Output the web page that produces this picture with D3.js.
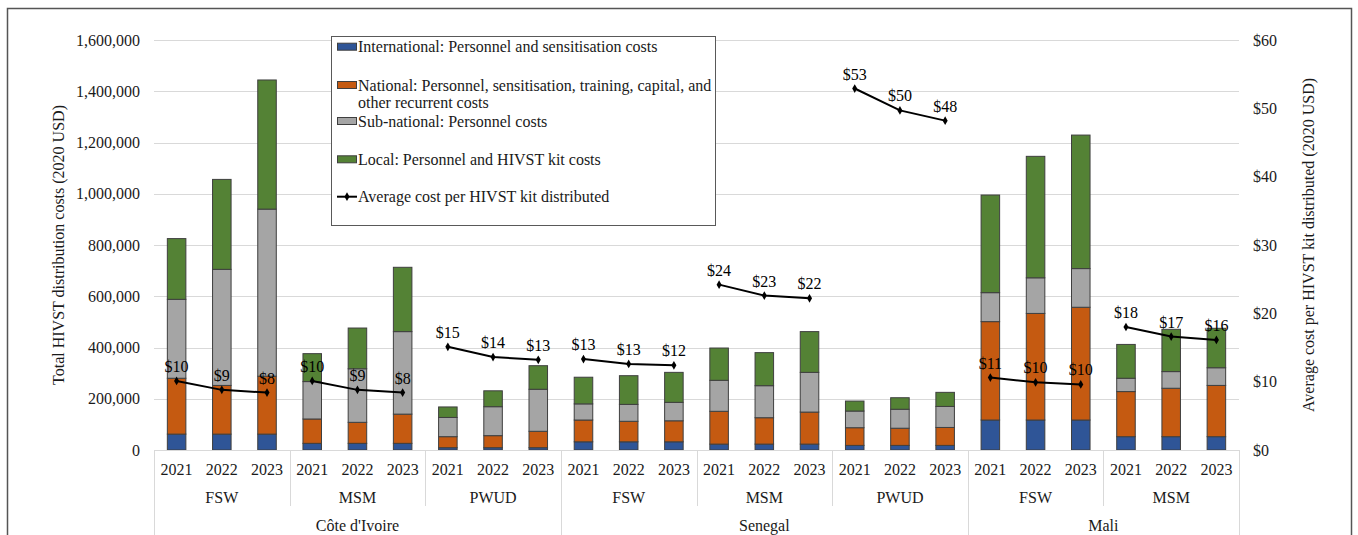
<!DOCTYPE html>
<html>
<head>
<meta charset="utf-8">
<script src="https://cdn.jsdelivr.net/npm/d3@7"></script>
<style>
  html, body { margin: 0; padding: 0; background: #fff; }
  svg { display: block; font-family: "Liberation Serif", "Times New Roman", serif; }
</style>
</head>
<body>
<svg id="chart" width="1358" height="535"></svg>
<script>
// ---------- DATA ----------
const countries = ["Côte d'Ivoire", "Senegal", "Mali"];
const groups = ["FSW", "MSM", "PWUD", "FSW", "MSM", "PWUD", "FSW", "MSM"];
const groupCountry = [0, 0, 0, 1, 1, 1, 2, 2];
const years = ["2021", "2022", "2023"];

// costs (2020 USD), one value per bar, in order group by group
const international = [62000, 62000, 62000, 26000, 26000, 26000, 9000, 9000, 9000,
  32000, 32000, 32000, 23000, 23000, 23000, 18000, 18000, 18000,
  117000, 117000, 117000, 52000, 52000, 52000];
const national = [218000, 190000, 226000, 95000, 82000, 114000, 43000, 47000, 64000,
  85000, 80000, 82000, 128000, 103000, 125000, 69000, 67000, 70000,
  384000, 416000, 440000, 176000, 189000, 200000];
const subnational = [308000, 453000, 652000, 146000, 209000, 322000, 75000, 113000, 164000,
  63000, 66000, 72000, 121000, 125000, 155000, 65000, 74000, 82000,
  113000, 139000, 151000, 52000, 65000, 69000];
const local = [237000, 351000, 504000, 109000, 159000, 251000, 41000, 62000, 92000,
  104000, 112000, 117000, 126000, 129000, 159000, 39000, 45000, 55000,
  381000, 474000, 521000, 132000, 165000, 154000];
const avgCost = [10.1, 8.8, 8.4, 10.1, 8.8, 8.4, 15.1, 13.6, 13.2,
  13.3, 12.6, 12.4, 24.2, 22.6, 22.2, 52.9, 49.7, 48.2,
  10.6, 9.9, 9.6, 18.0, 16.6, 16.1];

const leftTicks = [0, 200000, 400000, 600000, 800000, 1000000, 1200000, 1400000, 1600000];
const rightTicks = [0, 10, 20, 30, 40, 50, 60];

const seriesNames = [
  ["International: Personnel and sensitisation costs"],
  ["National: Personnel, sensitisation, training, capital, and", "other recurrent costs"],
  ["Sub-national: Personnel costs"],
  ["Local: Personnel and HIVST kit costs"]
];
const lineName = "Average cost per HIVST kit distributed";
const colors = ["#2F5597", "#C55A11", "#A5A5A5", "#548235"];

// ---------- BUILD ----------
const rows = [];
groups.forEach((g, gi) => {
  years.forEach((y, yi) => {
    const i = gi * 3 + yi;
    rows.push({
      key: gi + "-" + y, gi, year: y,
      international: international[i], national: national[i],
      subnational: subnational[i], local: local[i], avg: avgCost[i]
    });
  });
});
const keys = ["international", "national", "subnational", "local"];

const svg = d3.select("#chart");
const pLeft = 154, pRight = 1239, pTop = 40, pBottom = 450;

const x = d3.scaleBand().domain(rows.map(d => d.key)).range([pLeft, pRight])
  .paddingInner(0.59).paddingOuter(0.295);
const step = x.step();
const yL = d3.scaleLinear().domain([0, 1600000]).range([pBottom, pTop]);
const yR = d3.scaleLinear().domain([0, 60]).range([pBottom, pTop]);

// outer frame
svg.append("rect").attr("x", 7.5).attr("y", 8.5).attr("width", 1344).attr("height", 540)
  .attr("fill", "none").attr("stroke", "#555").attr("stroke-width", 1.5);

// gridlines
svg.append("g").selectAll("line").data(leftTicks.filter(t => t > 0)).join("line")
  .attr("x1", pLeft).attr("x2", pRight)
  .attr("y1", d => Math.round(yL(d)) + 0.5).attr("y2", d => Math.round(yL(d)) + 0.5)
  .attr("stroke", "#d9d9d9").attr("stroke-width", 1);

// left axis
const axL = svg.append("g").attr("transform", `translate(${pLeft},0)`)
  .call(d3.axisLeft(yL).tickValues(leftTicks).tickSize(0).tickPadding(14)
    .tickFormat(d => d === 0 ? "0" : d3.format(",")(d)));
axL.select(".domain").remove();
axL.selectAll("text").attr("font-size", 16).attr("fill", "#1a1a1a")
  .attr("font-family", "Liberation Serif, serif");

// right axis
const axR = svg.append("g").attr("transform", `translate(${pRight},0)`)
  .call(d3.axisRight(yR).tickValues(rightTicks).tickSize(0).tickPadding(14)
    .tickFormat(d => "$" + d));
axR.select(".domain").remove();
axR.selectAll("text").attr("font-size", 16).attr("fill", "#1a1a1a")
  .attr("font-family", "Liberation Serif, serif");

// stacked bars
const stack = d3.stack().keys(keys)(rows);
svg.append("g").selectAll("g").data(stack).join("g")
  .attr("fill", (d, i) => colors[i])
  .selectAll("rect").data(d => d).join("rect")
  .attr("x", d => x(d.data.key))
  .attr("width", x.bandwidth())
  .attr("y", d => yL(d[1]))
  .attr("height", d => yL(d[0]) - yL(d[1]))
  .attr("stroke", "#3f3f3f").attr("stroke-width", 1);

// category axis lines
const axisG = svg.append("g").attr("stroke", "#d9d9d9").attr("stroke-width", 1);
axisG.append("line").attr("x1", pLeft).attr("x2", pRight).attr("y1", pBottom + 0.5).attr("y2", pBottom + 0.5);
const boundaries = d3.range(groups.length + 1);
boundaries.forEach(b => {
  const xx = Math.round(pLeft + b * 3 * step) + 0.5;
  const isCountryEdge = b === 0 || b === groups.length || groupCountry[b] !== groupCountry[b - 1];
  axisG.append("line").attr("x1", xx).attr("x2", xx)
    .attr("y1", pBottom).attr("y2", isCountryEdge ? 540 : 506);
});

// year labels
svg.append("g").selectAll("text").data(rows).join("text")
  .attr("x", d => x(d.key) + x.bandwidth() / 2).attr("y", 469).attr("dy", "0.35em")
  .attr("text-anchor", "middle").attr("font-size", 16).attr("fill", "#1a1a1a")
  .text(d => d.year);

// group labels
svg.append("g").selectAll("text").data(groups).join("text")
  .attr("x", (d, i) => pLeft + (i * 3 + 1.5) * step).attr("y", 497).attr("dy", "0.35em")
  .attr("text-anchor", "middle").attr("font-size", 16).attr("fill", "#1a1a1a")
  .text(d => d);

// country labels
svg.append("g").selectAll("text").data(countries).join("text")
  .attr("x", (d, ci) => {
    const gs = groups.map((g, i) => i).filter(i => groupCountry[i] === ci);
    const a = pLeft + gs[0] * 3 * step, b = pLeft + (gs[gs.length - 1] + 1) * 3 * step;
    return (a + b) / 2;
  })
  .attr("y", 525).attr("dy", "0.35em")
  .attr("text-anchor", "middle").attr("font-size", 16).attr("fill", "#1a1a1a")
  .text(d => d);

// axis titles
svg.append("text").attr("transform", `translate(58,${(pTop + pBottom) / 2}) rotate(-90)`)
  .attr("text-anchor", "middle").attr("dy", "0.35em").attr("font-size", 16).attr("fill", "#1a1a1a")
  .text("Total HIVST distribution costs (2020 USD)");
svg.append("text").attr("transform", `translate(1308,${(pTop + pBottom) / 2}) rotate(-90)`)
  .attr("text-anchor", "middle").attr("dy", "0.35em").attr("font-size", 16).attr("fill", "#1a1a1a")
  .text("Average cost per HIVST kit distributed (2020 USD)");

// average cost lines (one per group)
const line = d3.line().x(d => x(d.key) + x.bandwidth() / 2).y(d => yR(d.avg));
const lineG = svg.append("g");
groups.forEach((g, gi) => {
  const pts = rows.filter(r => r.gi === gi);
  lineG.append("path").datum(pts).attr("d", line)
    .attr("fill", "none").attr("stroke", "#000").attr("stroke-width", 2);
});
lineG.selectAll("path.mk").data(rows).join("path").attr("class", "mk")
  .attr("transform", d => `translate(${x(d.key) + x.bandwidth() / 2},${yR(d.avg)})`)
  .attr("d", d3.symbol(d3.symbolDiamond, 22)).attr("fill", "#000");
lineG.selectAll("text").data(rows).join("text")
  .attr("x", d => x(d.key) + x.bandwidth() / 2).attr("y", d => yR(d.avg) - 9)
  .attr("text-anchor", "middle").attr("font-size", 16).attr("fill", "#000")
  .text(d => "$" + Math.round(d.avg));

// legend
const lg = svg.append("g");
lg.append("rect").attr("x", 331.5).attr("y", 36.5).attr("width", 384).attr("height", 189)
  .attr("fill", "#fff").attr("stroke", "#595959").attr("stroke-width", 1);
const rowY = [46.7, 85, 121, 159.3];
seriesNames.forEach((lines, i) => {
  lg.append("rect").attr("x", 337.5).attr("y", rowY[i] - 3.5).attr("width", 19).attr("height", 7)
    .attr("fill", colors[i]).attr("stroke", "#3f3f3f").attr("stroke-width", 1);
  lines.forEach((t, j) => {
    lg.append("text").attr("x", 358).attr("y", rowY[i] + j * 17.7).attr("dy", "0.35em")
      .attr("font-size", 16).attr("fill", "#1a1a1a").text(t);
  });
});
lg.append("line").attr("x1", 337).attr("x2", 357).attr("y1", 196.7).attr("y2", 196.7)
  .attr("stroke", "#000").attr("stroke-width", 2);
lg.append("path").attr("transform", "translate(347,196.7)")
  .attr("d", d3.symbol(d3.symbolDiamond, 22)).attr("fill", "#000");
lg.append("text").attr("x", 358).attr("y", 196.7).attr("dy", "0.35em")
  .attr("font-size", 16).attr("fill", "#1a1a1a").text(lineName);
</script>
</body>
</html>
